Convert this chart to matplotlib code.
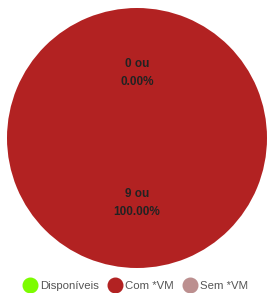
import numpy as np
import matplotlib
matplotlib.use('Agg')
import matplotlib.pyplot as plt
from matplotlib.lines import Line2D

plt.rcParams['font.family'] = ['Liberation Sans', 'DejaVu Sans']

categories = ['Disponíveis', 'Com *VM', 'Sem *VM']
values = [0, 9, 0]
colors = ['#7cfc00', '#b22222', '#bc8f8f']
# which slices get a label in the picture
show_label = [True, True, False]

fig = plt.figure(figsize=(2.68, 2.93), dpi=100)
ax = fig.add_axes([7 / 268, 25 / 293, 260 / 268, 260 / 293])

wedges, _ = ax.pie(values, colors=colors, startangle=90, counterclock=False,
                   radius=1, wedgeprops=dict(linewidth=0))
ax.set_xlim(-1, 1)
ax.set_ylim(-1, 1)
ax.set_aspect('equal')

total = sum(values)
for w, v, show in zip(wedges, values, show_label):
    if not show:
        continue
    ang = np.deg2rad((w.theta1 + w.theta2) / 2)
    x, y = 0.5 * np.cos(ang), 0.5 * np.sin(ang)
    ax.text(x, y, '%d ou\n%.2f%%' % (v, 100.0 * v / total), ha='center', va='center',
            fontsize=8.5, fontweight='bold', color='#222222', linespacing=1.75)

handles = [Line2D([], [], marker='o', linestyle='', markersize=10.5,
                  markerfacecolor=c, markeredgecolor=c) for c in colors]
fig.legend(handles, categories, loc='center', bbox_to_anchor=(0.505, 1 - 286 / 293),
           ncol=3, frameon=False, fontsize=8.2, labelcolor='#555555',
           handletextpad=0.2, columnspacing=0.8, handlelength=1.3)

fig.savefig('out.png', dpi=100)
